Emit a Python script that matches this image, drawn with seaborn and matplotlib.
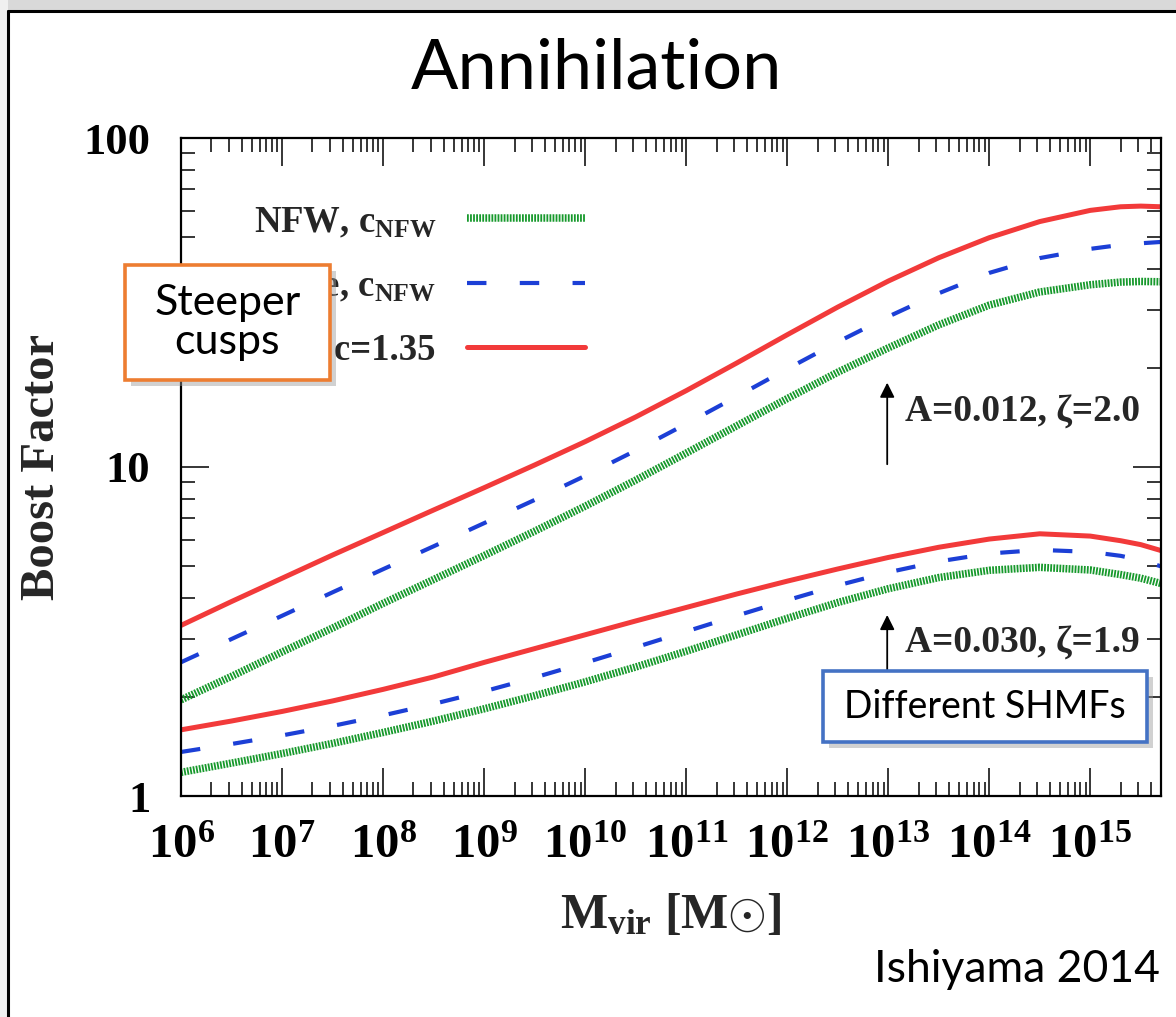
import numpy as np
import pandas as pd
import matplotlib
matplotlib.use("Agg")
import matplotlib.pyplot as plt
import seaborn as sns
from matplotlib.ticker import LogLocator, FuncFormatter, NullFormatter, FixedLocator
from matplotlib.patches import Rectangle, Shadow
from matplotlib.lines import Line2D

# ---- data -------------------------------------------------------------
log_mass = [6.0, 6.5, 7.0, 7.5, 8.0, 8.5, 9.0, 9.5, 10.0, 10.5, 11.0,
            11.5, 12.0, 12.5, 13.0, 13.5, 14.0, 14.5, 15.0, 15.3, 15.5, 15.7]

# A=0.012, zeta=2.0
boost_a012_nfw = [1.96, 2.31, 2.74, 3.24, 3.85, 4.55, 5.38, 6.38, 7.60, 9.12, 11.02,
                  13.34, 16.14, 19.41, 23.01, 27.04, 31.05, 34.04, 35.81, 36.48, 36.64, 36.56]
boost_a012_moore = [2.55, 3.00, 3.53, 4.16, 4.89, 5.74, 6.75, 7.94, 9.40, 11.22, 13.52,
                    16.37, 19.86, 23.99, 28.64, 33.73, 38.90, 43.15, 46.03, 47.32, 47.86, 48.31]
boost_a012_moore_c135 = [3.30, 3.90, 4.59, 5.40, 6.32, 7.40, 8.65, 10.14, 11.94, 14.19, 17.06,
                         20.70, 25.23, 30.62, 36.73, 43.25, 49.77, 55.72, 60.26, 61.80, 62.09, 61.80]

# A=0.030, zeta=1.9
boost_a030_nfw = [1.180, 1.259, 1.346, 1.445, 1.560, 1.690, 1.841, 2.018, 2.223, 2.466, 2.754,
                  3.090, 3.467, 3.873, 4.266, 4.613, 4.853, 4.955, 4.864, 4.710, 4.592, 4.426]
boost_a030_moore = [1.361, 1.439, 1.528, 1.633, 1.758, 1.905, 2.080, 2.291, 2.541, 2.831, 3.162,
                    3.532, 3.936, 4.365, 4.786, 5.164, 5.458, 5.598, 5.521, 5.370, 5.212, 4.989]
boost_a030_moore_c135 = [1.589, 1.690, 1.807, 1.945, 2.109, 2.301, 2.547, 2.805, 3.090, 3.404, 3.741,
                         4.111, 4.498, 4.898, 5.309, 5.702, 6.039, 6.266, 6.166, 5.970, 5.808, 5.572]

models = ["NFW, c_NFW", "Moore, c_NFW", "Moore, c=1.35"]
legend_labels = [r"NFW, c$_{\mathbf{NFW}}$",
                 r"Moore, c$_{\mathbf{NFW}}$",
                 "Moore, c=1.35"]
x_ticks_exp = [6, 7, 8, 9, 10, 11, 12, 13, 14, 15]
y_ticks = [1, 10, 100]

mass = 10.0 ** np.array(log_mass)
frames = []
for shmf, series in [("A=0.012", [boost_a012_nfw, boost_a012_moore, boost_a012_moore_c135]),
                     ("A=0.030", [boost_a030_nfw, boost_a030_moore, boost_a030_moore_c135])]:
    for model, vals in zip(models, series):
        frames.append(pd.DataFrame({"Mvir": mass, "boost": vals,
                                    "model": model, "shmf": shmf}))
df = pd.concat(frames, ignore_index=True)

# ---- style --------------------------------------------------------------
sns.set_theme(style="ticks")
plt.rcParams["font.family"] = ["Liberation Serif", "DejaVu Serif"]
plt.rcParams["font.weight"] = "bold"
plt.rcParams["mathtext.fontset"] = "custom"
plt.rcParams["mathtext.rm"] = "Liberation Serif:bold"
plt.rcParams["mathtext.bf"] = "Liberation Serif:bold"
plt.rcParams["mathtext.it"] = "Liberation Serif:bold:italic"
plt.rcParams["lines.scale_dashes"] = False

W, H = 1176, 1017
fig = plt.figure(figsize=(W / 100, H / 100), dpi=100, facecolor="white")


def fx(px):
    return px / W


def fy(py):
    return 1 - py / H


ax = fig.add_axes([fx(181), fy(796), fx(1161) - fx(181), fy(138) - fy(796)])
ax.set_facecolor("white")

styles = {
    "NFW, c_NFW": dict(color="#17992c", lw=5.4, ls=(0, (1.3, 0.9))),
    "Moore, c_NFW": dict(color="#1c3fd6", lw=3.0, ls=(0, (14, 24))),
    "Moore, c=1.35": dict(color="#f23a3a", lw=3.6, ls="-"),
}

for (shmf, model), sub in df.groupby(["shmf", "model"], sort=False):
    st = styles[model]
    sns.lineplot(data=sub, x="Mvir", y="boost", ax=ax, color=st["color"],
                 linewidth=st["lw"], linestyle=st["ls"], legend=False,
                 estimator=None, sort=True)

ax.set_xscale("log")
ax.set_yscale("log")
ax.set_xlim(1e6, 10 ** 15.7)
ax.set_ylim(1, 100)

ax.xaxis.set_major_locator(FixedLocator([10.0 ** e for e in x_ticks_exp]))
ax.xaxis.set_minor_locator(LogLocator(base=10, subs=np.arange(2, 10), numticks=200))
ax.xaxis.set_major_formatter(FuncFormatter(lambda v, p: r"$\mathbf{10^{%d}}$" % round(np.log10(v))))
ax.xaxis.set_minor_formatter(NullFormatter())
ax.yaxis.set_major_locator(FixedLocator(y_ticks))
ax.yaxis.set_minor_locator(LogLocator(base=10, subs=np.arange(2, 10), numticks=200))
ax.yaxis.set_major_formatter(FuncFormatter(lambda v, p: "%d" % v))
ax.yaxis.set_minor_formatter(NullFormatter())

ax.tick_params(which="both", direction="in", top=True, right=True, colors="black",
               width=1.1)
ax.tick_params(which="major", length=20)
ax.tick_params(which="minor", length=10)
ax.tick_params(axis="y", which="major", labelsize=32, pad=22)
ax.tick_params(axis="x", which="major", labelsize=35, pad=20)
for lab in ax.get_xticklabels() + ax.get_yticklabels():
    lab.set_fontweight("bold")
for sp in ax.spines.values():
    sp.set_linewidth(1.6)
    sp.set_color("black")

ax.set_xlabel(r"M$_{\mathbf{vir}}$ [M$\odot$]", fontsize=36, fontweight="bold", labelpad=18)
ax.set_ylabel("Boost Factor", fontsize=35, fontweight="bold", labelpad=14)

# legend (text left of the line samples)
handles = [Line2D([], [], color=styles[m]["color"], lw=styles[m]["lw"],
                  ls=styles[m]["ls"]) for m in models]
leg = ax.legend(handles, legend_labels, loc="upper right", frameon=False,
                markerfirst=False, fontsize=26.5, handlelength=3.2,
                handletextpad=0.85, labelspacing=0.8, borderpad=0,
                borderaxespad=0, bbox_to_anchor=(fx(585), fy(204)),
                bbox_transform=fig.transFigure)

# SHMF annotations
arrow_kw = dict(arrowstyle="-|>", color="black", lw=1.3, mutation_scale=22)
ax.annotate("", xy=(10 ** 12.99, 18.4), xytext=(10 ** 12.99, 10.0), arrowprops=arrow_kw)
ax.annotate("", xy=(10 ** 12.99, 3.62), xytext=(10 ** 12.99, 1.96), arrowprops=arrow_kw)
ax.text(10 ** 13.17, 14.7, "A=0.012, ζ=2.0", fontsize=27, fontweight="bold",
        va="center", ha="left")
ax.text(10 ** 13.17, 2.92, "A=0.030, ζ=1.9", fontsize=27, fontweight="bold",
        va="center", ha="left")

# ---- slide decoration ---------------------------------------------------
fig.add_artist(Rectangle((0, fy(11)), 1, 1 - fy(11), transform=fig.transFigure,
                         facecolor="#d9d9d9", edgecolor="none", zorder=0))
fig.add_artist(Rectangle((0, 0), fx(8), 1, transform=fig.transFigure,
                         facecolor="#f0f0f0", edgecolor="none", zorder=0))
fig.add_artist(Line2D([fx(8), 1], [fy(11), fy(11)], transform=fig.transFigure,
                      color="black", lw=2.2))
fig.add_artist(Line2D([fx(8), fx(8)], [0, fy(11)], transform=fig.transFigure,
                      color="black", lw=2.2))

sans = ["Lato", "DejaVu Sans"]
fig.text(fx(596), fy(69), "Annihilation", fontsize=50.5, family=sans,
         fontweight="normal", color="black", ha="center", va="center")
fig.text(fx(1160), fy(969), "Ishiyama 2014", fontsize=32, family=sans,
         fontweight="normal", color="black", ha="right", va="center")


def callout(x0, y0, x1, y1, edge, text, size):
    rect = Rectangle((fx(x0), fy(y1)), fx(x1) - fx(x0), fy(y0) - fy(y1),
                     transform=fig.transFigure, facecolor="white",
                     edgecolor=edge, lw=2.6, zorder=5)
    shadow = Shadow(rect, fx(4), -4 / H, facecolor="#9a9a9a", alpha=0.45,
                    edgecolor="none", zorder=4.9)
    fig.add_artist(shadow)
    fig.add_artist(rect)
    fig.text(fx((x0 + x1) / 2), fy((y0 + y1) / 2), text, fontsize=size,
             family=sans, fontweight="normal", color="black", ha="center",
             va="center", linespacing=1.02, zorder=6)


callout(125, 265, 330, 380, "#ed7d31", "Steeper\ncusps", 31)
callout(823, 671, 1147, 742, "#4472c4", "Different SHMFs", 27)

fig.savefig("out.png", dpi=100, facecolor="white")
